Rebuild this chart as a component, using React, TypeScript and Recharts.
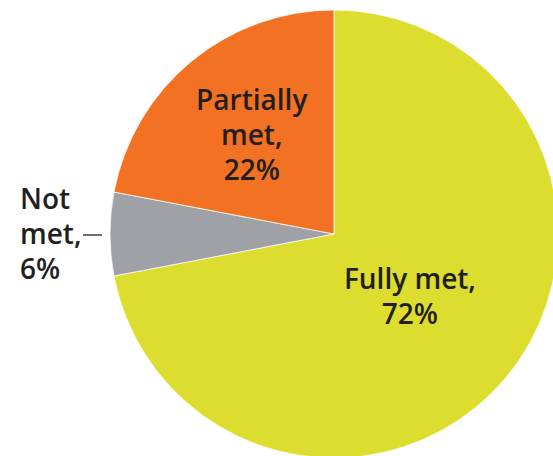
import React from "react";
import { PieChart, Pie, Cell } from "recharts";

const categories = ["Fully met", "Not met", "Partially met"];
const values = [72, 6, 22];
const colors = ["#dcdd2e", "#a0a1a6", "#f37122"];

const data = categories.map((name, i) => ({ name, value: values[i] }));

const TEXT = "#231f20";
const FONT = "'Open Sans', 'Noto Sans', sans-serif";
const LINE_H = 35;

const renderLabel = (props: any) => {
  const { cx, cy, midAngle, outerRadius, index, value } = props;
  const RAD = Math.PI / 180;
  const name = categories[index];
  const style = { fontFamily: FONT, fontSize: 28, fontWeight: 600, fill: TEXT };

  if (name === "Not met") {
    // outside label with a short leader
    const y = cy - outerRadius * Math.sin(midAngle * RAD);
    const edge = cx + outerRadius * Math.cos(midAngle * RAD);
    const lines = ["Not", "met,", `${value}%`];
    const x = edge - 90;
    return (
      <g>
        <line x1={edge - 8} x2={edge - 27} y1={y + 1} y2={y + 1} stroke={TEXT} strokeWidth={1.3} />
        <text x={x} y={y - LINE_H + 10} textAnchor="start" {...style}>
          {lines.map((t, i) => (
            <tspan key={i} x={x} dy={i === 0 ? 0 : LINE_H}>
              {t}
            </tspan>
          ))}
        </text>
      </g>
    );
  }

  const factor = name === "Fully met" ? 0.44 : 0.576;
  const x = cx + outerRadius * factor * Math.cos(-midAngle * RAD);
  const y = cy + outerRadius * factor * Math.sin(-midAngle * RAD);
  const lines = name === "Fully met" ? ["Fully met,", `${value}%`] : ["Partially", "met,", `${value}%`];
  const n = lines.length;
  return (
    <text x={x} y={y - ((n - 1) / 2) * LINE_H + 10} textAnchor="middle" {...style}>
      {lines.map((t, i) => (
        <tspan key={i} x={x} dy={i === 0 ? 0 : LINE_H}>
          {t}
        </tspan>
      ))}
    </text>
  );
};

export default function App() {
  return (
    <div style={{ position: "absolute", left: 0, top: 0, background: "#fff" }}>
      <PieChart width={553} height={456} margin={{ top: 0, right: 0, bottom: 0, left: 0 }}>
        <Pie
          data={data}
          dataKey="value"
          cx={334}
          cy={234}
          outerRadius={224}
          startAngle={90}
          endAngle={-270}
          stroke="#ffffff"
          strokeWidth={0.75}
          labelLine={false}
          label={renderLabel}
          isAnimationActive={false}
        >
          {data.map((entry, index) => (
            <Cell key={`cell-${index}`} fill={colors[index]} />
          ))}
        </Pie>
      </PieChart>
    </div>
  );
}
